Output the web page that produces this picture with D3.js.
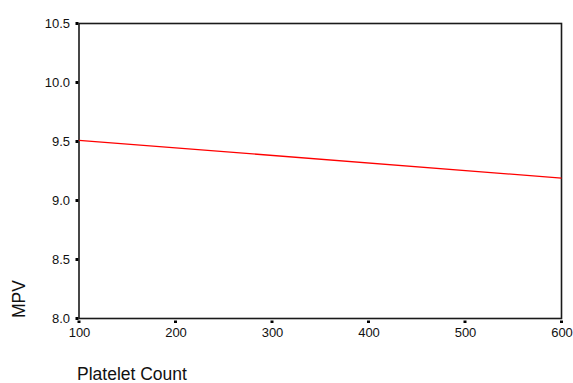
<!DOCTYPE html>
<html>
<head>
<meta charset="utf-8">
<script src="https://cdn.jsdelivr.net/npm/d3@7"></script>
<style>
  body { margin: 0; background: #fff; }
  text { font-family: "Liberation Sans", Arial, sans-serif; fill: #111; }
</style>
</head>
<body>
<div id="chart-area"></div>
<script>
// DATA
const xTicks = [100, 200, 300, 400, 500, 600]
const yTicks = [8.0, 8.5, 9.0, 9.5, 10.0, 10.5]
const lineX = [100, 600]
const lineY = [9.51, 9.19]
const xTitle = "Platelet Count"
const yTitle = "MPV"

const W = 573, H = 383
const PLOT = { LEFT: 79, RIGHT: 561.5, TOP: 23.5, BOTTOM: 318.5 }

const svg = d3.select("#chart-area").append("svg")
  .attr("width", W)
  .attr("height", H)

// SCALES
const x = d3.scaleLinear()
  .domain([100, 600])
  .range([PLOT.LEFT, PLOT.RIGHT])

const y = d3.scaleLinear()
  .domain([8.0, 10.5])
  .range([PLOT.BOTTOM, PLOT.TOP])

// AXES (labels only, tick marks drawn as little squares)
const xAxisCall = d3.axisBottom(x)
  .tickValues(xTicks)
  .tickSize(0)
  .tickPadding(9)
  .tickFormat(d3.format("d"))
const xAxisGroup = svg.append("g")
  .attr("transform", `translate(0, ${PLOT.BOTTOM})`)
  .call(xAxisCall)
xAxisGroup.select(".domain").remove()
xAxisGroup.selectAll("text")
  .attr("font-size", 13)
  .attr("font-family", "Liberation Sans, Arial, sans-serif")

const yAxisCall = d3.axisLeft(y)
  .tickValues(yTicks)
  .tickSize(0)
  .tickPadding(9)
  .tickFormat(d3.format(".1f"))
const yAxisGroup = svg.append("g")
  .attr("transform", `translate(${PLOT.LEFT}, 0)`)
  .call(yAxisCall)
yAxisGroup.select(".domain").remove()
yAxisGroup.selectAll("text")
  .attr("font-size", 13)
  .attr("font-family", "Liberation Sans, Arial, sans-serif")

// tick squares
svg.selectAll(".ytick").data(yTicks).enter().append("rect")
  .attr("class", "ytick")
  .attr("x", PLOT.LEFT - 3.5)
  .attr("y", d => y(d) - 1.5)
  .attr("width", 3)
  .attr("height", 3)
  .attr("fill", "#000")

svg.selectAll(".xtick").data(xTicks).enter().append("rect")
  .attr("class", "xtick")
  .attr("x", d => x(d) - 1.5)
  .attr("y", PLOT.BOTTOM + 2)
  .attr("width", 3)
  .attr("height", 2.5)
  .attr("fill", "#000")

// frame
svg.append("rect")
  .attr("x", PLOT.LEFT)
  .attr("y", PLOT.TOP)
  .attr("width", PLOT.RIGHT - PLOT.LEFT)
  .attr("height", PLOT.BOTTOM - PLOT.TOP)
  .attr("fill", "none")
  .attr("stroke", "#1a1a1a")
  .attr("stroke-width", 1.6)

// fit line
const line = d3.line()
  .x(d => x(d[0]))
  .y(d => y(d[1]))

svg.append("path")
  .datum(d3.zip(lineX, lineY))
  .attr("d", line)
  .attr("fill", "none")
  .attr("stroke", "#ff0000")
  .attr("stroke-width", 1.3)

// TITLES
svg.append("text")
  .attr("x", 77)
  .attr("y", 380)
  .attr("font-size", 17.5)
  .text(xTitle)

svg.append("text")
  .attr("transform", `translate(25, 299) rotate(-90)`)
  .attr("text-anchor", "middle")
  .attr("font-size", 17.5)
  .text(yTitle)
</script>
</body>
</html>
